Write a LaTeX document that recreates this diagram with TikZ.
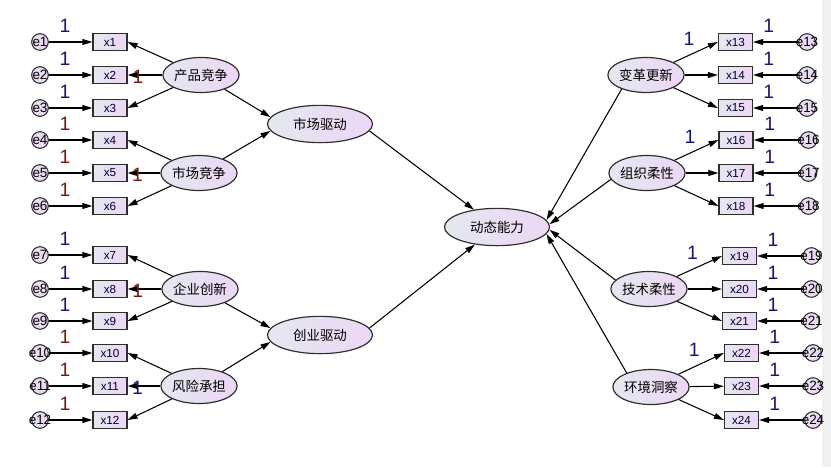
\documentclass[tikz,border=0pt]{standalone}
\usepackage{fontspec}
\setmainfont{Liberation Sans}
\newfontfamily\cjk{Noto Sans CJK SC}
\usetikzlibrary{shapes.geometric, arrows.meta}
\definecolor{shl}{RGB}{228,232,240}
\definecolor{shr}{RGB}{237,214,245}
\definecolor{navy}{RGB}{22,22,115}
\definecolor{brick}{RGB}{120,25,10}
\definecolor{edge}{RGB}{45,45,45}
\tikzset{ind/.style={draw=edge, line width=1pt, left color=shl, right color=shr, minimum width=1.02cm, minimum height=0.51cm, inner sep=0pt, font=\fontsize{10}{12}\selectfont, text=black!80!blue},
         err/.style={circle, draw=edge, line width=0.9pt, left color=shl!50!shr, right color=shr, minimum size=0.5cm, inner sep=0pt, label={[font=\fontsize{11.5}{13}\selectfont, inner sep=0pt]center:#1}},
         lat/.style={ellipse, draw=edge, line width=1pt, left color=shl, right color=shr, minimum width=2.1cm, minimum height=1.05cm, inner sep=0pt, font=\cjk\fontsize{11.5}{13}\selectfont},
         big/.style={lat, minimum width=3.15cm, minimum height=1.12cm},
         one/.style={font=\fontsize{16.5}{18}\selectfont, text=navy, inner sep=0pt},
         fix/.style={one, text=brick},
         >={Triangle[length=8.5pt,width=5pt]},
        }
\begin{document}
\begin{tikzpicture}[x=0.03cm, y=-0.03cm, line width=0.9pt]
        \useasboundingbox (0,0) rectangle (831,467);
        \fill[gray!12] (822,0) rectangle (831,467);
        % left side
        \node[err=e1](e1)at(40,42){};
        \node[err=e2](e2)at(40,75){};
        \node[err=e3](e3)at(40,108){};
        \node[err=e4](e4)at(40,140){};
        \node[err=e5](e5)at(40,173){};
        \node[err=e6](e6)at(40,206){};
        \node[err=e7](e7)at(40,255){};
        \node[err=e8](e8)at(40,289){};
        \node[err=e9](e9)at(40,321){};
        \node[err=e10](e10)at(40,353){};
        \node[err=e11](e11)at(40,386){};
        \node[err=e12](e12)at(40,420){};
        \node[ind](x1)at(110,42){x1};
        \node[ind](x2)at(110,75){x2};
        \node[ind](x3)at(110,108){x3};
        \node[ind](x4)at(110,140){x4};
        \node[ind](x5)at(110,173){x5};
        \node[ind](x6)at(110,206){x6};
        \node[ind](x7)at(110,255){x7};
        \node[ind](x8)at(110,289){x8};
        \node[ind](x9)at(110,321){x9};
        \node[ind](x10)at(110,353){x10};
        \node[ind](x11)at(110,386){x11};
        \node[ind](x12)at(110,420){x12};
        \node[lat](cpjz)at(201,75){产品竞争};
        \node[lat](scjz)at(199,173){市场竞争};
        \node[lat](qycx)at(200,289){企业创新};
        \node[lat](fxcd)at(199,386){风险承担};
        \node[big](scqd)at(320,124){市场驱动};
        \node[big](cyqd)at(320,335){创业驱动};
        \node[big](dtnl)at(497,227){动态能力};
        % right side
        \node[lat](bggx)at(646,75){变革更新};
        \node[lat](zzrx)at(647,173){组织柔性};
        \node[lat](jsrx)at(649,289){技术柔性};
        \node[lat](hjdc)at(651,387){环境洞察};
        \node[ind](x13)at(735.5,42){x13};
        \node[ind](x14)at(735.5,75){x14};
        \node[ind](x15)at(735.5,108){x15};
        \node[ind](x16)at(736,140){x16};
        \node[ind](x17)at(736,173){x17};
        \node[ind](x18)at(736,206){x18};
        \node[ind](x19)at(739.5,256){x19};
        \node[ind](x20)at(739.5,289){x20};
        \node[ind](x21)at(739.5,321){x21};
        \node[ind](x22)at(741.5,353){x22};
        \node[ind](x23)at(741.5,386){x23};
        \node[ind](x24)at(741.5,420){x24};
        \node[err=e13](e13)at(807,42){};
        \node[err=e14](e14)at(807,75){};
        \node[err=e15](e15)at(807,108){};
        \node[err=e16](e16)at(808.5,140){};
        \node[err=e17](e17)at(808.5,173){};
        \node[err=e18](e18)at(808.5,206){};
        \node[err=e19](e19)at(811.5,256){};
        \node[err=e20](e20)at(811.5,289){};
        \node[err=e21](e21)at(811.5,321){};
        \node[err=e22](e22)at(813,353){};
        \node[err=e23](e23)at(813,386){};
        \node[err=e24](e24)at(813,420){};
        % errors
        \draw[->](e1)--(x1)node[one,pos=0.37,above=8pt]{1};
        \draw[->](e2)--(x2)node[one,pos=0.37,above=8pt]{1};
        \draw[->](e3)--(x3)node[one,pos=0.37,above=8pt]{1};
        \draw[->](e4)--(x4)node[fix,pos=0.37,above=8pt]{1};
        \draw[->](e5)--(x5)node[fix,pos=0.37,above=8pt]{1};
        \draw[->](e6)--(x6)node[fix,pos=0.37,above=8pt]{1};
        \draw[->](e7)--(x7)node[one,pos=0.37,above=8pt]{1};
        \draw[->](e8)--(x8)node[one,pos=0.37,above=8pt]{1};
        \draw[->](e9)--(x9)node[one,pos=0.37,above=8pt]{1};
        \draw[->](e10)--(x10)node[fix,pos=0.37,above=8pt]{1};
        \draw[->](e11)--(x11)node[fix,pos=0.37,above=8pt]{1};
        \draw[->](e12)--(x12)node[fix,pos=0.37,above=8pt]{1};
        \draw[->](e13)--(x13)node[one,pos=0.65,above=8pt]{1};
        \draw[->](e14)--(x14)node[one,pos=0.65,above=8pt]{1};
        \draw[->](e15)--(x15)node[one,pos=0.65,above=8pt]{1};
        \draw[->](e16)--(x16)node[one,pos=0.65,above=8pt]{1};
        \draw[->](e17)--(x17)node[one,pos=0.65,above=8pt]{1};
        \draw[->](e18)--(x18)node[one,pos=0.65,above=8pt]{1};
        \draw[->](e19)--(x19)node[one,pos=0.65,above=8pt]{1};
        \draw[->](e20)--(x20)node[one,pos=0.65,above=8pt]{1};
        \draw[->](e21)--(x21)node[one,pos=0.65,above=8pt]{1};
        \draw[->](e22)--(x22)node[one,pos=0.65,above=8pt]{1};
        \draw[->](e23)--(x23)node[one,pos=0.65,above=8pt]{1};
        \draw[->](e24)--(x24)node[one,pos=0.65,above=8pt]{1};
        % loadings
        \draw[->](cpjz)--(x1.east);
        \draw[->](cpjz)--(x2)node[fix,pos=0.7,yshift=-1.5pt]{1};
        \draw[->](cpjz)--(x3.east);
        \draw[->](scjz)--(x4.east);
        \draw[->](scjz)--(x5)node[fix,pos=0.7,yshift=-1.5pt]{1};
        \draw[->](scjz)--(x6.east);
        \draw[->](qycx)--(x7.east);
        \draw[->](qycx)--(x8)node[fix,pos=0.7,yshift=-1.5pt]{1};
        \draw[->](qycx)--(x9.east);
        \draw[->](fxcd)--(x10.east);
        \draw[->](fxcd)--(x11)node[one,pos=0.7,yshift=-1.5pt]{1};
        \draw[->](fxcd)--(x12.east);
        \draw[->](bggx)--(x13.west)node[one,pos=0.35,above=8pt]{1};
        \draw[->](bggx)--(x14);
        \draw[->](bggx)--(x15.west);
        \draw[->](zzrx)--(x16.west)node[one,pos=0.35,above=8pt]{1};
        \draw[->](zzrx)--(x17);
        \draw[->](zzrx)--(x18.west);
        \draw[->](jsrx)--(x19.west)node[one,pos=0.35,above=8pt]{1};
        \draw[->](jsrx)--(x20);
        \draw[->](jsrx)--(x21.west);
        \draw[->](hjdc)--(x22.west)node[one,pos=0.35,above=8pt]{1};
        \draw[->](hjdc)--(x23);
        \draw[->](hjdc)--(x24.west);
        % structure
        \draw[->](cpjz)--(scqd.172);
        \draw[->](scjz)--(scqd.188);
        \draw[->](qycx)--(cyqd.172);
        \draw[->](fxcd)--(cyqd.188);
        \draw[->](scqd.-8)--(dtnl);
        \draw[->](cyqd.8)--(dtnl);
        \draw[<-](dtnl.8)--(bggx.210);
        \draw[<-](dtnl.3)--(zzrx.190);
        \draw[<-](dtnl.-3)--(jsrx.165);
        \draw[<-](dtnl.-8)--(hjdc.150);
    \end{tikzpicture}
\end{document}
